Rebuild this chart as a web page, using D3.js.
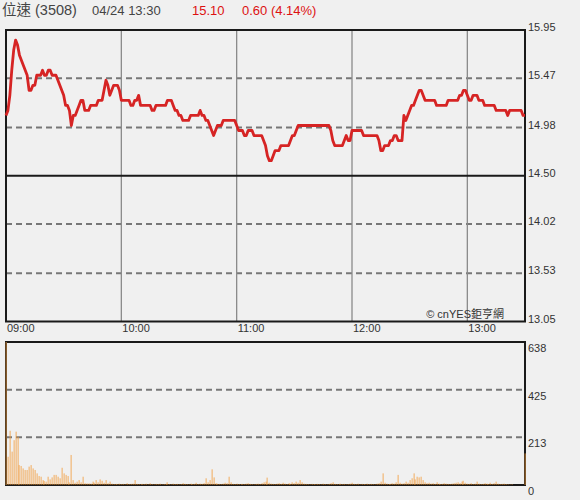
<!DOCTYPE html>
<html><head><meta charset="utf-8">
<script src="https://cdn.jsdelivr.net/npm/d3@7"></script>
<style>
html,body{margin:0;padding:0;background:#f0f0f0;}
svg{display:block;font-family:"Liberation Sans",Arial,"Noto Sans CJK TC",sans-serif;}
</style></head><body>
<svg id="c" width="580" height="500"></svg>
<script>
// ---- data ----
const stockName = "位速 (3508)";
const quoteTime = "04/24 13:30";
const lastPrice = "15.10";
const change = "0.60 (4.14%)";
const startTime = "09:00", endTime = "13:30";
const timeTicks = ["09:00","10:00","11:00","12:00","13:00"];
const priceTicks = [15.95,15.47,14.98,14.50,14.02,13.53,13.05];
const prevClose = 14.50;
const volTicks = [638,425,213,0];
// one value per minute, 09:00 .. 13:30
const prices = [
15.10,15.15,15.30,15.55,15.75,15.85,15.80,15.70,15.65,15.60,
15.55,15.50,15.35,15.35,15.40,15.40,15.50,15.50,15.50,15.55,
15.50,15.50,15.55,15.55,15.50,15.50,15.50,15.45,15.40,15.35,
15.30,15.20,15.20,15.15,15.00,15.10,15.10,15.15,15.20,15.25,
15.25,15.15,15.15,15.15,15.20,15.20,15.20,15.20,15.25,15.25,
15.25,15.35,15.45,15.40,15.30,15.35,15.40,15.40,15.40,15.35,
15.25,15.25,15.25,15.25,15.25,15.20,15.20,15.25,15.25,15.30,
15.20,15.20,15.20,15.20,15.20,15.20,15.15,15.15,15.20,15.20,
15.20,15.20,15.20,15.20,15.25,15.25,15.25,15.20,15.15,15.15,
15.10,15.10,15.05,15.05,15.05,15.05,15.10,15.10,15.10,15.10,
15.10,15.15,15.10,15.10,15.05,15.05,15.00,14.95,14.90,14.95,
15.00,15.00,15.00,15.05,15.05,15.05,15.05,15.05,15.05,15.05,
15.00,14.95,14.95,14.95,14.90,14.90,14.95,14.95,14.95,14.90,
14.90,14.90,14.90,14.90,14.85,14.80,14.70,14.65,14.65,14.70,
14.75,14.75,14.75,14.80,14.80,14.80,14.80,14.80,14.85,14.90,
14.90,14.95,15.00,15.00,15.00,15.00,15.00,15.00,15.00,15.00,
15.00,15.00,15.00,15.00,15.00,15.00,15.00,15.00,15.00,14.95,
14.85,14.80,14.80,14.80,14.80,14.80,14.85,14.90,14.85,14.85,
14.95,14.95,14.95,14.95,14.95,14.95,14.90,14.90,14.90,14.90,
14.90,14.90,14.90,14.90,14.85,14.75,14.75,14.80,14.80,14.80,
14.85,14.85,14.90,14.90,14.85,14.85,14.85,15.10,15.05,15.10,
15.15,15.20,15.20,15.25,15.30,15.35,15.35,15.30,15.25,15.25,
15.25,15.25,15.25,15.25,15.20,15.20,15.20,15.20,15.20,15.20,
15.25,15.25,15.25,15.25,15.25,15.25,15.30,15.30,15.35,15.35,
15.30,15.25,15.25,15.30,15.30,15.30,15.25,15.25,15.25,15.20,
15.20,15.20,15.20,15.20,15.20,15.15,15.15,15.15,15.15,15.15,
15.15,15.10,15.15,15.15,15.15,15.15,15.15,15.15,15.15,15.10,
15.10];
const volumes = [
638,126,242,149,200,238,215,89,85,74,
67,67,82,89,74,67,52,40,37,22,
18,15,37,25,34,45,45,37,30,77,
52,45,40,12,134,22,10,15,22,12,
37,8,7,7,6,15,10,22,12,25,
19,10,22,8,15,6,4,5,3,6,
4,5,3,8,4,5,6,22,5,4,
3,5,4,6,3,8,4,3,5,4,
6,3,4,5,12,4,3,6,4,5,
3,4,8,5,4,3,6,4,5,10,
4,6,5,8,30,12,22,70,34,8,
6,5,4,6,10,8,37,12,5,4,
6,4,3,5,4,6,8,5,4,3,
5,6,4,8,12,15,33,10,6,5,
4,6,8,5,10,6,4,8,5,12,
8,15,10,22,12,6,5,4,3,5,
4,3,5,4,3,6,4,3,5,8,
12,5,4,3,6,4,5,3,4,6,
10,5,4,6,3,5,4,3,6,4,
5,4,3,6,8,15,52,10,6,4,
5,8,6,12,45,10,6,8,15,10,
22,30,52,25,37,34,37,22,12,8,
10,6,8,5,12,6,4,5,8,6,
5,4,6,8,10,12,8,15,19,10,
6,5,8,4,6,15,6,4,5,8,
6,4,10,5,8,15,6,4,5,6,
4,3,2,3,0,0,0,0,0,0,
141];

// ---- layout ----
const L = 6, R = 525;
const pTop = 30, pBot = 321.5;
const vTop = 342, vBot = 485;
const parse = d3.timeParse("%H:%M");
const t0 = parse(startTime);
const minuteTime = i => d3.timeMinute.offset(t0, i);

const svg = d3.select("#c");
svg.append("rect").attr("width",580).attr("height",500).attr("fill","#f0f0f0");

const x = d3.scaleTime().domain([parse(startTime), parse(endTime)]).range([L, R]);
const y = d3.scaleLinear().domain([13.05, 15.95]).range([pBot, pTop]);
const yv = d3.scaleLinear().domain([0, 638]).range([vBot, vTop]);

// header
const hdr = svg.append("g").attr("font-size", 13);
hdr.append("text").attr("x", 2).attr("y", 15).attr("fill", "#444").attr("font-size", 14.5).text(stockName);
hdr.append("text").attr("x", 92).attr("y", 15).attr("fill", "#444").text(quoteTime);
hdr.append("text").attr("x", 192).attr("y", 15).attr("fill", "#dd1111").text(lastPrice);
hdr.append("text").attr("x", 242).attr("y", 15).attr("fill", "#dd1111").text(change);

// price gridlines
const gridG = svg.append("g");
gridG.selectAll("line.h").data(priceTicks.filter(v => v !== prevClose && v !== 15.95 && v !== 13.05))
  .join("line").attr("x1", L).attr("x2", R)
  .attr("y1", d => y(d)).attr("y2", d => y(d))
  .attr("stroke", "#777").attr("stroke-width", 2).attr("stroke-dasharray", "6,4");
gridG.selectAll("line.v").data(timeTicks.slice(1))
  .join("line").attr("x1", d => x(parse(d))).attr("x2", d => x(parse(d)))
  .attr("y1", pTop).attr("y2", pBot)
  .attr("stroke", "#8a8a8a").attr("stroke-width", 1.3);
// previous close line
svg.append("line").attr("x1", L).attr("x2", R).attr("y1", y(prevClose)).attr("y2", y(prevClose))
  .attr("stroke", "#1a1a1a").attr("stroke-width", 2);
// frame
svg.append("rect").attr("x", L).attr("y", pTop).attr("width", R - L).attr("height", pBot - pTop)
  .attr("fill", "none").attr("stroke", "#1a1a1a").attr("stroke-width", 2);

// price axis labels
const axG = svg.append("g").attr("font-size", 11).attr("fill", "#333");
axG.selectAll("text").data(priceTicks).join("text")
  .attr("x", R + 3).attr("y", d => y(d) + 1).text(d => d.toFixed(2));

// time labels
svg.append("g").attr("font-size", 11).attr("fill", "#333")
  .selectAll("text").data(timeTicks).join("text")
  .attr("x", d => x(parse(d)) + 1).attr("y", 332).text(d => d);

// watermark
svg.append("text").attr("x", 504).attr("y", 318).attr("text-anchor", "end")
  .attr("font-size", 11).attr("fill", "#333").text("© cnYES鉅亨網");

// price line
const line = d3.line().x((d, i) => x(minuteTime(i))).y(d => y(d));
svg.append("path").datum(prices).attr("d", line)
  .attr("fill", "none").attr("stroke", "#d62424").attr("stroke-width", 2.8)
  .attr("stroke-linejoin", "round");

// volume panel
svg.selectAll("line.vg").data(volTicks.filter(v => v !== 0 && v !== 638)).join("line")
  .attr("x1", L).attr("x2", R).attr("y1", d => yv(d)).attr("y2", d => yv(d))
  .attr("stroke", "#777").attr("stroke-width", 2).attr("stroke-dasharray", "6,4");
svg.append("rect").attr("x", L).attr("y", vTop).attr("width", R - L).attr("height", vBot - vTop)
  .attr("fill", "none").attr("stroke", "#1a1a1a").attr("stroke-width", 2);
svg.append("g").selectAll("rect").data(volumes).join("rect")
  .attr("x", (d, i) => Math.round(x(minuteTime(i))) - 0.5)
  .attr("width", 1.3)
  .attr("y", d => yv(d)).attr("height", d => vBot - yv(d))
  .attr("fill", "#f39c3c").attr("fill-opacity", 0.62);
svg.append("g").attr("font-size", 11).attr("fill", "#333")
  .selectAll("text").data(volTicks).join("text")
  .attr("x", R + 3).attr("y", d => yv(d) + 10).text(d => d);
</script>
</body></html>
